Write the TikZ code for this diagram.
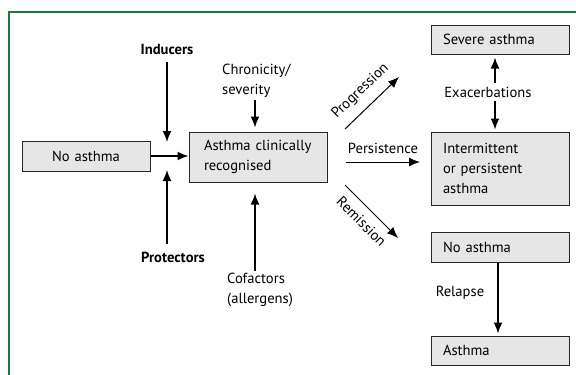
\documentclass[tikz,border=0pt]{standalone}
\usepackage{fontspec}
\setmainfont{PT Sans}
\usetikzlibrary{arrows.meta}
\definecolor{boxgray}{RGB}{230,230,230}
\definecolor{framegreen}{RGB}{30,120,70}

\begin{document}
\begin{tikzpicture}[x=1pt,y=-1pt,
  font=\fontsize{14.6}{20}\selectfont,
  box/.style={draw=black!85,fill=boxgray,line width=1pt,inner xsep=12pt,inner ysep=0pt,text width=114pt,align=left},
  arr/.style={-{Latex[length=11pt,width=9pt]},line width=1.6pt},
  thinarr/.style={-{Latex[length=11pt,width=9pt]},line width=1pt}]
\useasboundingbox (0,0) rectangle (576,375);
\draw[framegreen,line width=1.2pt] (9,375) -- (9,12) -- (576,12);

% boxes
\node[box,text width=104pt,align=center,minimum height=30pt] (noL) at (86,156) {No asthma};
\node[box,inner xsep=15pt,text width=108pt,minimum height=50pt] (acr) at (258,157) {Asthma clinically\\recognised};
\node[box,minimum height=29pt] (sev) at (500,39.5) {Severe asthma};
\node[box,minimum height=73pt] (imp) at (500,168.5) {Intermittent\\or persistent\\asthma};
\node[box,minimum height=30pt] (noR) at (500,247) {No asthma};
\node[box,minimum height=29pt] (ast) at (500,350.5) {Asthma};

% labels
\node[font=\fontsize{14.6}{20}\selectfont\bfseries] (ind) at (167,49) {Inducers};
\node[font=\fontsize{14.6}{20}\selectfont\bfseries] (pro) at (173,257) {Protectors};
\node[align=left,anchor=west,inner sep=0pt] (chr) at (222,81) {Chronicity/\\severity};
\node[align=left,anchor=west,inner sep=0pt] (cof) at (227,290) {Cofactors\\(allergens)};
\node (exa) at (488,92) {Exacerbations};
\node (rel) at (460,293) {Relapse};

% arrow positions
\coordinate (indtip) at (167,142);
\coordinate (protip) at (167,170);
\coordinate (cx) at (255,0);
\coordinate (ex) at (495,0);
\coordinate (rx) at (498,0);
\coordinate (pgA) at (345,129);
\coordinate (pgB) at (399,77);
\coordinate (perA) at (346,162);
\coordinate (perB) at (420,162);
\coordinate (remA) at (345,185);
\coordinate (remB) at (398,238);

% arrows
\draw[arr] (noL.east) -- (noL.east -| acr.west);
\draw[arr,shorten <=4pt] (ind.south) -- (indtip);
\draw[arr,shorten <=4pt] (pro.north -| protip) -- (protip);
\draw[arr,shorten <=2pt,shorten >=4pt] (chr.south -| cx) -- (acr.north -| cx);
\draw[arr,shorten <=2pt,shorten >=11pt] (cof.north -| cx) -- (acr.south -| cx);
\draw[thinarr] (pgA) -- (pgB) node[midway,sloped,above=6pt] {Progression};
\draw[thinarr] (perA) -- (perB) node[midway,above=4pt] {Persistence};
\draw[thinarr] (remA) -- (remB) node[midway,sloped,below=5pt] {Remission};
\draw[arr,shorten >=3pt] (exa.north -| ex) -- (sev.south -| ex);
\draw[arr,shorten >=2pt] (exa.south -| ex) -- (imp.north -| ex);
\draw[arr,shorten >=2pt] (noR.south -| rx) -- (ast.north -| rx);
\end{tikzpicture}
\end{document}
